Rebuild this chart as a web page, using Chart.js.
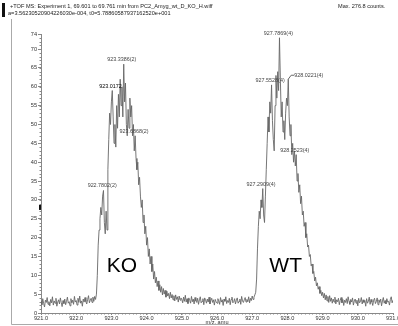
<!DOCTYPE html>
<html>
<head>
<meta charset="utf-8">
<script src="https://cdn.jsdelivr.net/npm/chart.js@4"></script>
<style>
  html, body { margin: 0; padding: 0; background: #fff; }
  canvas { display: block; }
</style>
</head>
<body>
<canvas id="spectrum" width="398" height="326"></canvas>
<script>
// spectrum sampling grid (m/z, amu)
var mzStart = 921.0;
var mzStep = 0.025;

// intensity, one value per grid step
var intensity = [
	3.1,2.2,3.8,2.5,1.6,3.4,2.8,4.1,2.3,3.0,1.9,3.6,2.7,4.3,2.1,3.2,2.6,3.9,1.8,2.9,
	3.5,2.4,4.0,2.8,1.7,3.3,2.5,3.7,2.2,3.1,4.2,2.6,3.0,1.9,3.8,2.7,3.4,2.3,4.4,2.9,
	3.3,2.1,3.9,2.8,4.5,2.6,3.2,1.8,3.7,2.9,4.1,3.0,2.4,3.6,4.6,2.7,3.4,3.9,2.8,4.2,3.1,4.4,3.6,
	// KO cluster
	5,10,18,22,25,28,26,31,32.5,24,21,27,22,38,46,53,50,56,59,52,
	45,50,44,55,49,58,52,62,55,60,52,66,56,61,50,47,54,49,57,52,
	55,47,50,43,47,41,38,40,34,36,31,28,30,24,26,21,23,18,20,15,
	17,13,15,11,13,9,11,8,9.5,7,8.5,6,7.5,5.5,7,4.8,6.5,5,6,4.2,
	5.8,4.5,5.2,3.8,5.5,4.0,4.9,3.5,4.6,3.2,4.8,3.6,4.3,2.9,4.5,3.4,4.0,
	// baseline between clusters
	3.6,2.7,4.2,3.1,4.7,2.9,3.8,2.5,4.0,3.3,2.6,4.4,3.0,3.7,2.4,4.1,3.2,2.8,3.9,2.3,
	3.5,4.3,2.7,3.1,3.8,2.2,4.0,3.4,2.6,3.7,2.9,4.2,2.4,3.3,3.9,2.8,3.5,2.1,3.6,3.0,
	2.6,3.8,3.2,2.3,4.1,2.9,3.5,2.0,3.7,3.1,4.3,2.5,3.3,2.8,3.9,2.2,3.6,4.2,2.7,3.0,
	3.8,2.4,3.4,4.0,2.6,3.1,3.7,2.3,4.4,3.2,2.8,3.5,4.1,2.9,3.6,3.0,4.3,2.7,3.9,3.3,
	4.5,3.6,4.2,4.8,
	// WT cluster
	5.5,9,17,23,27,25,30,28,33,26,24,31,38,45,52,48,56,53,60.5,51,
	46,43,55,63,57,64,59,73,62,52,56,48,51,46,53,57,55,62,52,47,
	50,42,45,40,43,39,42,35,37,32,34,29,31,26,27,23,24,20,21,17.5,
	18,15,15.5,12.5,13,10.5,11,8.5,9.5,7.2,8,6.3,7,5.2,6,4.6,5.5,4.0,5.2,3.5,
	4.8,3.2,4.4,2.8,4.6,
	// baseline to the end
	3.1,4.0,2.6,3.7,2.9,4.2,2.4,3.5,3.0,3.9,2.2,3.3,4.1,2.7,3.6,2.0,3.4,2.8,3.8,2.5,
	4.3,3.1,2.3,3.6,2.9,4.0,2.1,3.2,3.7,2.6,3.4,1.9,3.9,2.7,3.0,4.1,2.4,3.5,2.8,3.3,
	1.8,3.8,2.6,3.1,4.2,2.3,3.6,2.9,2.0,3.4,3.9,2.5,3.0,4.0,2.2,3.5,2.8,3.7,1.9,3.2,
	4.1,2.6,3.3,2.4,3.8,2.9,3.1,2.1,3.6,4.3,2.7,3.4
];

var yTicks = [0, 5, 10, 15, 20, 25, 30, 35, 40, 45, 50, 55, 60, 65, 70, 74];
var xMin = 921.0;
var xMax = 931.0;

// peak annotations
var peakMz = [922.7802, 923.0172, 923.3386, 923.6868, 927.2909, 927.5528, 927.7869, 928.0221, 928.2523];
var peakText = ["922.7802(2)", "923.0172", "923.3386(2)", "923.6868(2)", "927.2909(4)", "927.5528(4)", "927.7869(4)", "928.0221(4)", "928.2523(4)"];

// group labels
var groupText = ["KO", "WT"];
var groupMz = [923.3, 927.95];
var groupLevel = 11;

var thresholdLevel = 28;

var headerLine1 = "+TOF MS: Experiment 1, 69.601 to 69.761 min from PC2_Amyg_wt_D_KO_H.wiff";
var headerLine2 = "a=3.56230520904226030e-004, t0=5.78860587937162520e+001";
var headerMax = "Max. 276.8 counts.";

var FONT = "'Liberation Sans', Arial, sans-serif";

var points = [];
for (var i = 0; i < intensity.length; i++) {
	points.push({ x: mzStart + i * mzStep, y: intensity[i] });
}

function peakHeight(mz) {
	var best = 0;
	for (var i = 0; i < points.length; i++) {
		if (Math.abs(points[i].x - mz) <= 0.026 && points[i].y > best) best = points[i].y;
	}
	return best;
}

var decorations = {
	id: "decorations",
	afterDraw: function(chart) {
		var ctx = chart.ctx;
		var xs = chart.scales.x;
		var ys = chart.scales.y;
		var area = chart.chartArea;
		ctx.save();

		// frame
		ctx.fillStyle = "#111";
		ctx.fillRect(2, 3, 3, 14);
		ctx.strokeStyle = "#aaa";
		ctx.lineWidth = 1;
		ctx.beginPath();
		ctx.moveTo(11.5, 19);
		ctx.lineTo(11.5, 324.5);
		ctx.lineTo(398, 324.5);
		ctx.stroke();

		// header
		ctx.fillStyle = "#222";
		ctx.font = "5.6px " + FONT;
		ctx.textAlign = "left";
		ctx.textBaseline = "alphabetic";
		ctx.fillText(headerLine1, 10, 8);
		ctx.fillText(headerLine2, 8, 15);
		ctx.fillText(headerMax, 338, 8);

		// minor ticks
		ctx.strokeStyle = "#888";
		ctx.beginPath();
		for (var v = 1; v < 74; v++) {
			var py = Math.round(ys.getPixelForValue(v)) + 0.5;
			ctx.moveTo(area.left - 1.5, py);
			ctx.lineTo(area.left, py);
		}
		for (var k = 1; k < 100; k++) {
			var px = Math.round(xs.getPixelForValue(xMin + k * 0.1)) + 0.5;
			ctx.moveTo(px, area.bottom);
			ctx.lineTo(px, area.bottom + 1.5);
		}
		ctx.stroke();

		// threshold mark
		ctx.fillStyle = "#111";
		var ty = ys.getPixelForValue(thresholdLevel);
		ctx.fillRect(area.left - 2, ty - 2.5, 2, 5);

		// peak labels
		ctx.font = "5.4px " + FONT;
		for (var p = 0; p < peakMz.length; p++) {
			var x = xs.getPixelForValue(peakMz[p]);
			var y = ys.getPixelForValue(peakHeight(peakMz[p]));
			ctx.fillStyle = p === 1 ? "#000" : "#444";
			if (peakText[p] === "928.0221(4)") {
				ctx.strokeStyle = "#666";
				ctx.beginPath();
				ctx.moveTo(x, y);
				ctx.lineTo(x + 3, y - 4);
				ctx.lineTo(x + 6, y - 4);
				ctx.stroke();
				ctx.textAlign = "left";
				ctx.fillText(peakText[p], x + 6, y - 2);
			} else {
				ctx.textAlign = "center";
				ctx.fillText(peakText[p], x - 1.5, y - 3);
			}
		}

		// group labels
		ctx.fillStyle = "#000";
		ctx.font = "21px " + FONT;
		ctx.textAlign = "center";
		for (var g = 0; g < groupText.length; g++) {
			ctx.fillText(groupText[g], xs.getPixelForValue(groupMz[g]), ys.getPixelForValue(groupLevel));
		}
		ctx.restore();
	}
};

var ctx = document.getElementById("spectrum");

var chart = new Chart(ctx, {
	type: "line",
	data: {
		datasets: [
			{
				label: "TOF MS",
				data: points,
				borderColor: "#666",
				borderWidth: 0.9,
				fill: false,
				tension: 0,
				pointRadius: 0
			}
		]
	},
	options: {
		responsive: false,
		animation: false,
		devicePixelRatio: 1,
		layout: {
			padding: { left: 12, right: 5, top: 34, bottom: 0 }
		},
		plugins: {
			legend: { display: false },
			tooltip: { enabled: false },
			title: { display: false }
		},
		scales: {
			x: {
				type: "linear",
				min: xMin,
				max: xMax,
				grid: { display: true, drawOnChartArea: false, drawTicks: true, tickLength: 2, color: "#888" },
				border: { display: true, color: "#888" },
				ticks: {
					stepSize: 1,
					autoSkip: false,
					maxRotation: 0,
					padding: 0,
					color: "#333",
					font: { family: FONT, size: 5.6 },
					callback: function(v) { return Number(v).toFixed(1); }
				},
				title: {
					display: true,
					text: "m/z, amu",
					color: "#333",
					padding: 0,
					font: { family: FONT, size: 5.6 }
				},
				afterFit: function(s) {
					s.height = 13;
					s.paddingLeft = 0;
					s.paddingRight = 0;
				}
			},
			y: {
				min: 0,
				max: 74,
				grid: { display: true, drawOnChartArea: false, drawTicks: true, tickLength: 3, color: "#888" },
				border: { display: true, color: "#888" },
				ticks: {
					padding: 1,
					color: "#333",
					font: { family: FONT, size: 5.6 }
				},
				afterBuildTicks: function(s) {
					s.ticks = yTicks.map(function(v) { return { value: v }; });
				},
				afterFit: function(s) {
					s.width = 29;
					s.paddingTop = 0;
					s.paddingBottom = 0;
				}
			}
		}
	},
	plugins: [decorations]
});
</script>
</body>
</html>
